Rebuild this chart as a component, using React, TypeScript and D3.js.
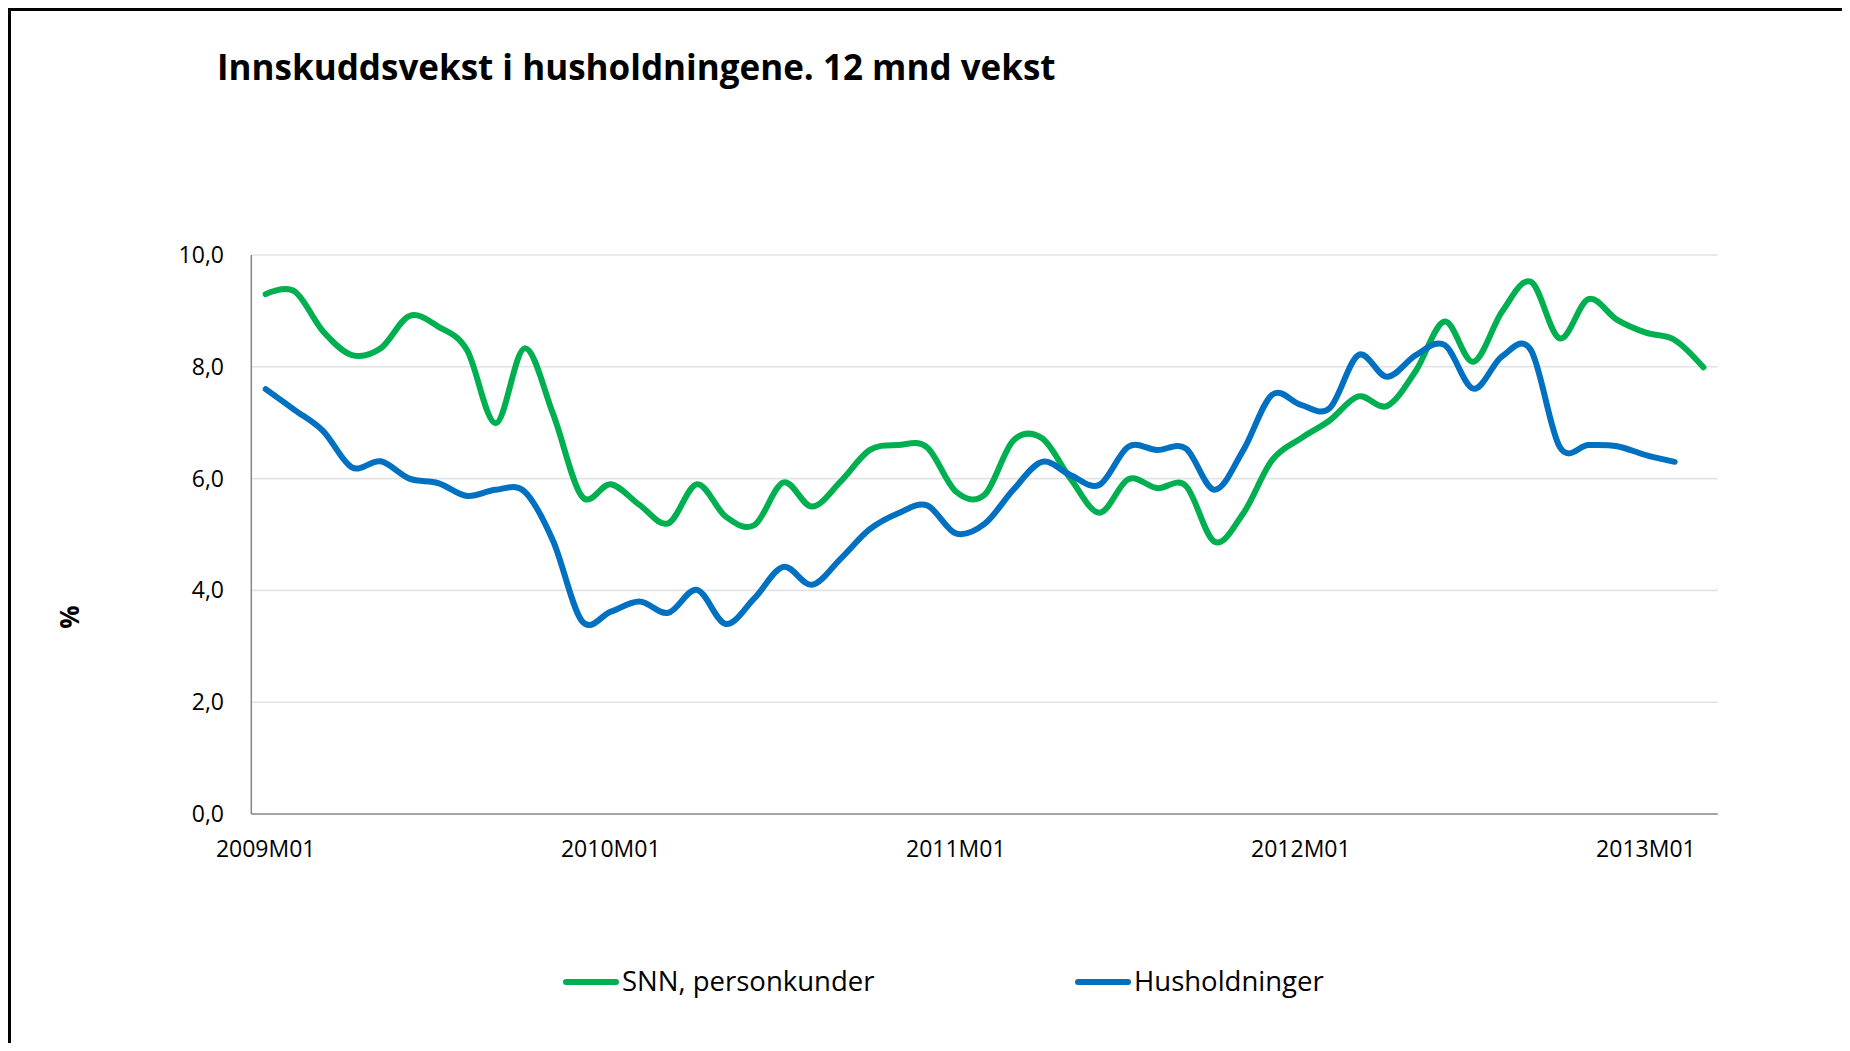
import React, { useEffect, useRef } from "react";
import * as d3 from "d3";

// Innskuddsvekst, 12 mnd vekst (%)
const years = [2009, 2010, 2011, 2012, 2013];
const months = years
  .flatMap((y) => d3.range(1, 13).map((m) => `${y}M${String(m).padStart(2, "0")}`))
  .slice(0, 51);

const snn = [
  9.3, 9.35, 8.63, 8.21, 8.33, 8.91, 8.72, 8.3, 6.99, 8.33, 7.15, 5.68, 5.9,
  5.53, 5.2, 5.9, 5.32, 5.17, 5.93, 5.5, 5.95, 6.51, 6.6, 6.56, 5.77, 5.71,
  6.68, 6.72, 5.99, 5.39, 5.99, 5.83, 5.87, 4.87, 5.38, 6.33, 6.72, 7.04,
  7.47, 7.3, 7.93, 8.81, 8.09, 8.99, 9.52, 8.51, 9.21, 8.84, 8.61, 8.48, 7.99,
];

const hush = [
  7.6, 7.23, 6.85, 6.2, 6.31, 6.0, 5.92, 5.69, 5.8, 5.77, 4.88, 3.45, 3.62,
  3.8, 3.6, 4.01, 3.4, 3.86, 4.42, 4.1, 4.57, 5.09, 5.38, 5.52, 5.02, 5.19,
  5.8, 6.3, 6.06, 5.89, 6.57, 6.51, 6.54, 5.8, 6.51, 7.5, 7.32, 7.26, 8.21,
  7.82, 8.21, 8.39, 7.61, 8.19, 8.3, 6.57, 6.6, 6.58, 6.42, 6.3,
];

const yTicks = [0, 2, 4, 6, 8, 10];
const xTickLabels = ["2009M01", "2010M01", "2011M01", "2012M01", "2013M01"];

const series = [
  { name: "SNN, personkunder", values: snn, color: "#00b050" },
  { name: "Husholdninger", values: hush, color: "#0070c0" },
];

const W = 1842;
const H = 1035;
const FONT = "'Open Sans', 'Noto Sans', sans-serif";

const App = () => {
  const ref = useRef<SVGSVGElement>(null);

  useEffect(() => {
    const svg = d3.select(ref.current);
    svg.selectAll("*").remove();

    // work in page coordinates
    const g = svg.append("g").attr("transform", "translate(-8,-8)");

    g.append("rect")
      .attr("x", 9.5)
      .attr("y", 9.5)
      .attr("width", 1900)
      .attr("height", 1100)
      .attr("fill", "#fff")
      .attr("stroke", "#000")
      .attr("stroke-width", 3);

    const left = 251.3, right = 1717.8, top = 255, bottom = 814;

    const x = d3.scaleBand().domain(months).range([left, right]);
    const cx = (m: string) => (x(m) as number) + x.bandwidth() / 2;
    const y = d3.scaleLinear().domain([0, 10]).range([bottom, top]);

    // gridlines
    g.append("g")
      .selectAll("line")
      .data(yTicks.filter((d) => d > 0))
      .join("line")
      .attr("x1", left)
      .attr("x2", right)
      .attr("y1", (d) => y(d))
      .attr("y2", (d) => y(d))
      .attr("stroke", "#e3e3e3")
      .attr("stroke-width", 1.6);

    // axes lines
    g.append("line")
      .attr("x1", left).attr("x2", left)
      .attr("y1", y(10)).attr("y2", y(0))
      .attr("stroke", "#868686").attr("stroke-width", 1.5);
    g.append("line")
      .attr("x1", left).attr("x2", right)
      .attr("y1", y(0)).attr("y2", y(0))
      .attr("stroke", "#868686").attr("stroke-width", 1.5);

    // y tick labels
    g.append("g")
      .selectAll("text")
      .data(yTicks)
      .join("text")
      .attr("x", 224)
      .attr("y", (d) => y(d) + 8)
      .attr("text-anchor", "end")
      .attr("font-family", FONT)
      .attr("font-size", "23px")
      .attr("fill", "#000")
      .text((d) => d3.format(".1f")(d).replace(".", ","));

    // x tick labels
    g.append("g")
      .selectAll("text")
      .data(xTickLabels)
      .join("text")
      .attr("x", (d) => cx(d))
      .attr("y", 857)
      .attr("text-anchor", "middle")
      .attr("font-family", FONT)
      .attr("font-size", "23px")
      .attr("fill", "#000")
      .text((d) => d);

    // lines
    const line = d3
      .line<number>()
      .x((_, i) => cx(months[i]))
      .y((d) => y(d))
      .curve(d3.curveCardinal.tension(0));

    series.forEach((s) => {
      g.append("path")
        .attr("d", line(s.values))
        .attr("fill", "none")
        .attr("stroke", s.color)
        .attr("stroke-width", 6)
        .attr("stroke-linecap", "round")
        .attr("stroke-linejoin", "round");
    });

    // title
    g.append("text")
      .attr("x", 217)
      .attr("y", 80)
      .attr("font-family", FONT)
      .attr("font-weight", "bold")
      .attr("font-size", "35px")
      .attr("fill", "#000")
      .text("Innskuddsvekst i husholdningene. 12 mnd vekst");

    // y axis title
    g.append("text")
      .attr("transform", "translate(69,617) rotate(-90)")
      .attr("text-anchor", "middle")
      .attr("dominant-baseline", "central")
      .attr("font-family", FONT)
      .attr("font-weight", "bold")
      .attr("font-size", "26px")
      .text("%");

    // legend
    const legendX = [563, 1075];
    series.forEach((s, i) => {
      const lx = legendX[i];
      g.append("line")
        .attr("x1", lx + 3).attr("x2", lx + 53)
        .attr("y1", 982).attr("y2", 982)
        .attr("stroke", s.color)
        .attr("stroke-width", 6)
        .attr("stroke-linecap", "round");
      g.append("text")
        .attr("x", lx + 59)
        .attr("y", 991)
        .attr("font-family", FONT)
        .attr("font-size", "27.5px")
        .attr("fill", "#000")
        .text(s.name);
    });
  }, []);

  return <svg ref={ref} width={W} height={H} style={{ display: "block" }} />;
};

export default App;
